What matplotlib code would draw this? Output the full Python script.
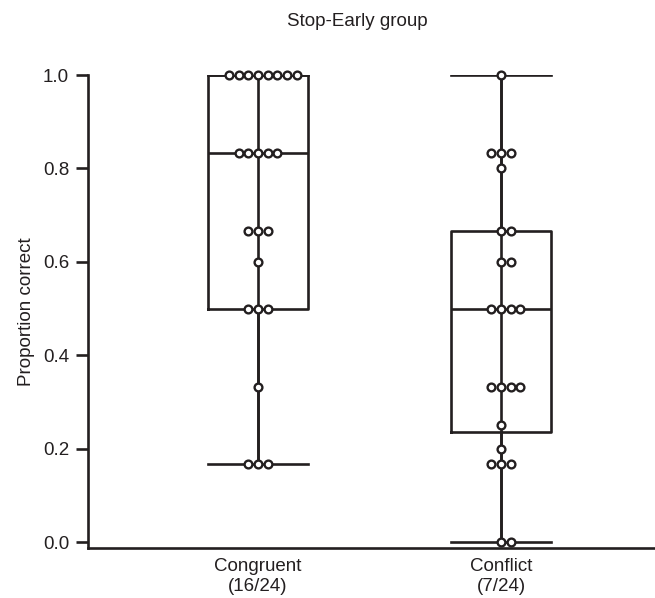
"""Stop-Early group: proportion correct per condition, box plot with swarm."""

import matplotlib
matplotlib.use("Agg")
import matplotlib.pyplot as plt

plt.rcParams["font.family"] = ["Liberation Sans", "DejaVu Sans"]

INK = "#231f20"
FS = 13.5

categories = ["Congruent\n(16/24)", "Conflict\n(7/24)"]

# (value, swarm offset slots) per condition
congruent_vals = [1.0] * 8 + [0.833] * 5 + [0.667] * 3 + [0.6] + [0.5] * 3 + [0.333] + [0.167] * 3
congruent_slots = [-3, -2, -1, 0, 1, 2, 3, 4, -2, -1, 0, 1, 2, -1, 0, 1, 0, -1, 0, 1, 0, -1, 0, 1]

conflict_vals = ([1.0] + [0.833] * 3 + [0.8] + [0.667] * 2 + [0.6] * 2 + [0.5] * 4
                 + [0.333] * 4 + [0.25] + [0.2] + [0.167] * 3 + [0.0] * 2)
conflict_slots = [0, -1, 0, 1, 0, 0, 1, 0, 1, -1, 0, 1, 2, -1, 0, 1, 2, 0, 0, -1, 0, 1, 0, 1]

# box statistics as drawn
medians = [0.833, 0.5]
q1s = [0.5, 0.236]
q3s = [1.0, 0.667]
whis_lo = [0.167, 0.0]
whis_hi = [1.0, 1.0]

fig = plt.figure(figsize=(6.55, 5.98), dpi=100)
ax = fig.add_axes([88 / 655, 1 - 548 / 598, 1 - 88 / 655, (548 - 75) / 598])

stats = []
for i in range(2):
    stats.append({"med": medians[i], "q1": q1s[i], "q3": q3s[i],
                  "whislo": whis_lo[i], "whishi": whis_hi[i], "fliers": []})

lw = 1.9
ax.bxp(stats, positions=[1, 2], widths=0.41, showfliers=False,
       boxprops=dict(color=INK, linewidth=lw),
       whiskerprops=dict(color=INK, linewidth=lw),
       capprops=dict(color=INK, linewidth=lw),
       medianprops=dict(color=INK, linewidth=lw),
       capwidths=0.41)

# center line spanning whiskers through box
for i in range(2):
    ax.plot([i + 1, i + 1], [whis_lo[i], whis_hi[i]], color=INK, lw=lw, zorder=2)

step = 0.04
for pos, vals, slots in [(1, congruent_vals, congruent_slots), (2, conflict_vals, conflict_slots)]:
    xs = [pos + s * step for s in slots]
    ax.plot(xs, vals, linestyle="none", marker="o", markersize=5.6,
            markerfacecolor="white", markeredgecolor=INK, markeredgewidth=1.7,
            zorder=3, clip_on=False)

ax.set_xlim(0.3004, 2.634)
ax.set_ylim(-0.0128, 1.0)
ax.set_yticks([0.0, 0.2, 0.4, 0.6, 0.8, 1.0])
ax.set_yticklabels(["0.0", "0.2", "0.4", "0.6", "0.8", "1.0"])
ax.set_xticks([1, 2])
ax.set_xticklabels(categories, linespacing=1.25)

for side in ["top", "right"]:
    ax.spines[side].set_visible(False)
for side in ["left", "bottom"]:
    ax.spines[side].set_color(INK)
    ax.spines[side].set_linewidth(1.9)

ax.tick_params(axis="y", direction="out", length=8.6, width=1.9, color=INK,
               labelsize=FS, pad=5, labelcolor=INK)
ax.tick_params(axis="x", length=0, labelsize=FS, pad=7, labelcolor=INK)

ax.set_ylabel("Proportion correct", fontsize=FS, color=INK, labelpad=6)
fig.text(357 / 655, 1 - 22 / 598, "Stop-Early group", ha="center", va="center",
         fontsize=FS, color=INK)

fig.savefig("out.png", dpi=100)
